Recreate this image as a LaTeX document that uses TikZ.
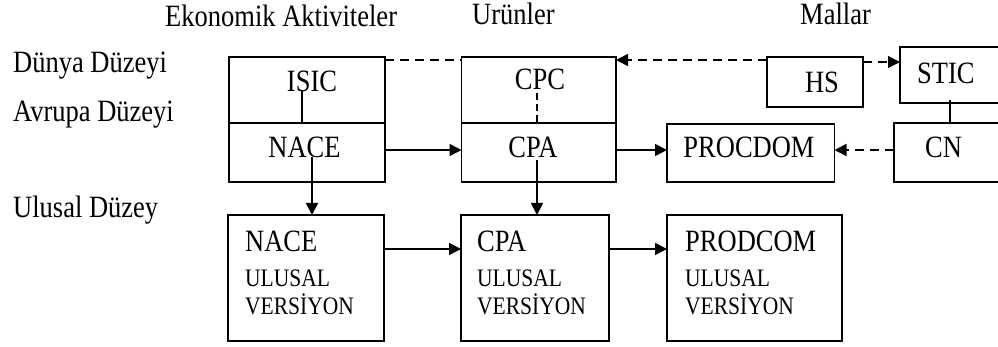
\documentclass[tikz,border=0pt]{standalone}
\usepackage{fontspec}
\setmainfont{Liberation Serif}
\usetikzlibrary{arrows.meta}
\newcommand\vstretch[1]{\scalebox{1}[1.17]{#1}}
\begin{document}
\begin{tikzpicture}[x=1pt,y=-1pt,
  box/.style={draw, line width=1.6pt, inner sep=0pt, outer sep=0pt},
  lbl/.style={anchor=base west, inner sep=0pt, font=\fontsize{26.5}{30}\selectfont},
  ctext/.style={anchor=base, inner sep=0pt, font=\fontsize{26.5}{30}\selectfont},
  ltext/.style={anchor=base west, inner sep=0pt, font=\fontsize{26.5}{30}\selectfont},
  stext/.style={anchor=base west, inner sep=0pt, font=\fontsize{21.5}{25}\selectfont},
  conn/.style={line width=1.6pt},
  arr/.style={line width=1.6pt, -{Triangle[length=12pt,width=12pt]}},
  dsh/.style={line width=1.6pt, dash pattern=on 9pt off 6pt}]
\clip (0,0) rectangle (998,347);
% headers and row labels
\node[lbl] (h1) at (165,27) {\vstretch{Ekonomik Aktiviteler}};
\node[lbl] (h2) at (472,25) {\vstretch{Urünler}};
\node[lbl] (h3) at (800,25) {\vstretch{Mallar}};
\node[lbl] (r1) at (13,73) {\vstretch{Dünya Düzeyi}};
\node[lbl] (r2) at (13,122) {\vstretch{Avrupa Düzeyi}};
\node[lbl] (r3) at (13,218) {\vstretch{Ulusal Düzey}};
% boxes
\node[box, minimum width=156pt, minimum height=66pt] (isic) at (307,90) {};
\node[box, minimum width=156pt, minimum height=59pt] (nace) at (307,152.5) {};
\node[box, minimum width=154.5pt, minimum height=66pt] (cpc) at (538.75,90) {};
\node[box, minimum width=154.5pt, minimum height=59pt] (cpa) at (538.75,152.5) {};
\node[box, minimum width=96pt, minimum height=50pt] (hs) at (815,82) {};
\node[box, minimum width=110pt, minimum height=56pt] (stic) at (955,75) {};
\node[box, minimum width=116pt, minimum height=59pt] (cn) at (952,152.5) {};
\node[box, minimum width=167.5pt, minimum height=58pt] (procdom) at (750.75,153) {};
\node[box, minimum width=156pt, minimum height=126pt] (naceu) at (306,278) {};
\node[box, minimum width=148pt, minimum height=126pt] (cpau) at (535,278) {};
\node[box, minimum width=175pt, minimum height=126pt] (produ) at (754.5,278) {};
% box texts
\node[ctext] (tisic) at (312,92) {\vstretch{ISIC}};
\node[ctext] (tnace) at (304.5,158) {\vstretch{NACE}};
\node[ctext] (tcpc) at (540,90) {\vstretch{CPC}};
\node[ctext] (tcpa) at (533,158) {\vstretch{CPA}};
\node[ctext] (ths) at (822,93) {\vstretch{HS}};
\node[ctext] (tproc) at (749,158) {\vstretch{PROCDOM}};
\node[ltext] (tstic) at (917,84) {\vstretch{STIC}};
\node[ltext] (tcn) at (925,158) {\vstretch{CN}};
\node[ltext] (tnu1) at (245,252) {\vstretch{NACE}};
\node[stext] (tnu2) at (245,287) {\vstretch{ULUSAL}};
\node[stext] (tnu3) at (245,314) {\vstretch{VERSİYON}};
\node[ltext] (tcu1) at (477,252) {\vstretch{CPA}};
\node[stext] (tcu2) at (477,287) {\vstretch{ULUSAL}};
\node[stext] (tcu3) at (477,314) {\vstretch{VERSİYON}};
\node[ltext] (tpu1) at (685,252) {\vstretch{PRODCOM}};
\node[stext] (tpu2) at (685,287) {\vstretch{ULUSAL}};
\node[stext] (tpu3) at (685,314) {\vstretch{VERSİYON}};
% helper coordinates
\coordinate (row2) at (0,150);
\coordinate (row3) at (0,249);
\coordinate (isicstub) at (302,90);
\coordinate (cpcstub) at (537,93);
\coordinate (nacestub) at (312,157);
\coordinate (cpastub) at (537,160);
\coordinate (sticstub) at (950,100);
% connectors
\draw[dsh] ([yshift=-3pt]isic.north east) -- ([yshift=-3pt]cpc.north west);
\draw[dsh, arr] ([yshift=-3pt]hs.north west) -- ([yshift=-3pt]cpc.north east);
\draw[dsh, arr] ([yshift=-5pt]hs.north east) -- ([yshift=-5pt]hs.north east -| stic.west);
\draw[dsh, arr] (cn.west |- row2) -- (procdom.east |- row2);
\draw[arr] (nace.east |- row2) -- (cpa.west |- row2);
\draw[arr] (cpa.east |- row2) -- (procdom.west |- row2);
\draw[conn] (isicstub) -- (isicstub |- nace.north);
\draw[dsh, dash pattern=on 7pt off 4pt] (cpcstub) -- (cpcstub |- cpa.north);
\draw[arr] (nacestub) -- (nacestub |- naceu.north);
\draw[arr] (cpastub) -- (cpastub |- cpau.north);
\draw[conn] (sticstub) -- (sticstub |- cn.north);
\draw[arr] (naceu.east |- row3) -- (cpau.west |- row3);
\draw[arr] (cpau.east |- row3) -- (produ.west |- row3);
\end{tikzpicture}
\end{document}
